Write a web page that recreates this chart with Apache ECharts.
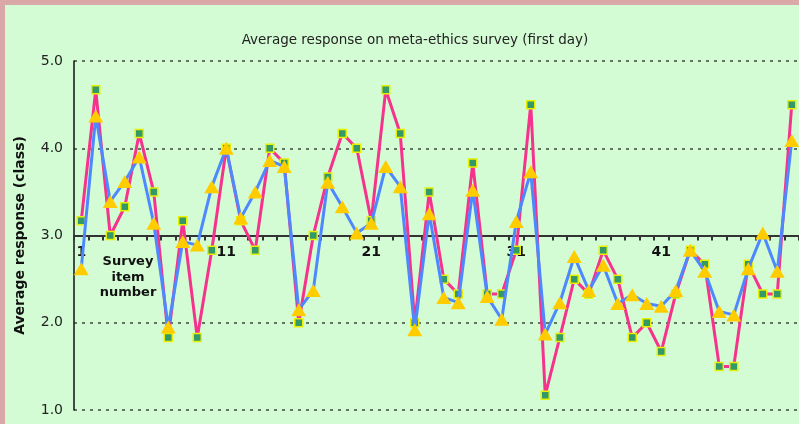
<!DOCTYPE html>
<html>
<head>
<meta charset="utf-8">
<script src="https://cdn.jsdelivr.net/npm/echarts@6/dist/echarts.min.js"></script>
<style>
  html, body { margin: 0; padding: 0; background: #dba8a8; width: 799px; height: 424px; overflow: hidden; }
  #chart-survey { position: absolute; left: 5px; top: 5px; width: 794px; height: 419px; background: #d4fcd4; }
</style>
</head>
<body>
<div id="chart-survey"></div>
<script>
/** 调查题号 1..50 */
const items = ['1','2','3','4','5','6','7','8','9','10','11','12','13','14','15','16','17','18','19','20',
  '21','22','23','24','25','26','27','28','29','30','31','32','33','34','35','36','37','38','39','40',
  '41','42','43','44','45','46','47','48','49','50'];

/** 粉线（方块标记） */
const pinkValues = [3.17, 4.67, 3.0, 3.33, 4.17, 3.5, 1.83, 3.17, 1.83, 2.83,
  4.0, 3.17, 2.83, 4.0, 3.83, 2.0, 3.0, 3.67, 4.17, 4.0,
  3.17, 4.67, 4.17, 2.0, 3.5, 2.5, 2.33, 3.83, 2.33, 2.33,
  2.83, 4.5, 1.17, 1.83, 2.5, 2.33, 2.83, 2.5, 1.83, 2.0,
  1.67, 2.33, 2.83, 2.67, 1.5, 1.5, 2.67, 2.33, 2.33, 4.5];

/** 蓝线（三角标记） */
const blueValues = [2.62, 4.37, 3.39, 3.62, 3.9, 3.14, 1.95, 2.93, 2.89, 3.56,
  4.0, 3.2, 3.5, 3.86, 3.79, 2.15, 2.37, 3.61, 3.33, 3.03,
  3.14, 3.79, 3.56, 1.92, 3.25, 2.29, 2.23, 3.52, 2.3, 2.04,
  3.16, 3.73, 1.87, 2.23, 2.76, 2.37, 2.66, 2.22, 2.32, 2.22,
  2.19, 2.37, 2.83, 2.59, 2.13, 2.09, 2.62, 3.03, 2.59, 4.09];

const yTicks = [1, 2, 3, 4, 5];

function initSurveyChart() {
  const dom = document.getElementById('chart-survey');
  const chart = echarts.init(dom);

  const option = {
    animation: false,
    textStyle: { fontFamily: 'DejaVu Sans' },
    title: {
      text: 'Average response on meta-ethics survey (first day)',
      left: 405, top: 23, textAlign: 'center',
      textStyle: { fontSize: 13.5, fontWeight: 'normal', color: '#222', fontFamily: 'DejaVu Sans' }
    },
    grid: { left: 69, right: -5, top: 56, bottom: 14 },
    xAxis: {
      type: 'category',
      data: items,
      boundaryGap: true,
      // 横轴穿过 3.0
      offset: -174.5,
      axisLine: { lineStyle: { color: '#333', width: 2 } },
      axisTick: { show: true, interval: 0, length: 5, lineStyle: { color: '#333', width: 2 } },
      axisLabel: { interval: 9, color: '#111', fontSize: 14, fontWeight: 'bold', margin: 10 },
      splitLine: { show: false }
    },
    yAxis: {
      type: 'value',
      min: yTicks[0],
      max: yTicks[yTicks.length - 1],
      interval: 1,
      name: 'Average response (class)',
      nameLocation: 'middle',
      nameGap: 47,
      nameTextStyle: { fontSize: 14, fontWeight: 'bold', color: '#111' },
      axisLine: { show: true, lineStyle: { color: '#111', width: 1.5 } },
      axisTick: { show: false },
      axisLabel: { color: '#222', fontSize: 14, margin: 11, formatter: v => v.toFixed(1) },
      splitLine: { lineStyle: { color: '#3a4a3a', type: [3, 5], width: 1.5 } }
    },
    graphic: [
      {
        type: 'text',
        x: 123, y: 249,
        style: {
          text: 'Survey\nitem\nnumber',
          align: 'center',
          textAlign: 'center',
          fontSize: 13, fontWeight: 'bold', lineHeight: 15.5,
          fill: '#111', fontFamily: 'DejaVu Sans'
        }
      }
    ],
    series: [
      {
        name: 'pink',
        type: 'line',
        data: pinkValues,
        showAllSymbol: true,
        lineStyle: { color: '#f5338c', width: 3 },
        itemStyle: { color: '#339966', borderColor: '#e6f000', borderWidth: 1.5 },
        symbol: 'rect',
        symbolSize: 8,
        z: 2
      },
      {
        name: 'blue',
        type: 'line',
        data: blueValues,
        showAllSymbol: true,
        lineStyle: { color: '#4d88ff', width: 3 },
        itemStyle: { color: '#ffcc00' },
        symbol: 'triangle',
        symbolSize: [15, 13],
        z: 3
      }
    ]
  };

  chart.setOption(option, true);
}

initSurveyChart();
</script>
</body>
</html>
